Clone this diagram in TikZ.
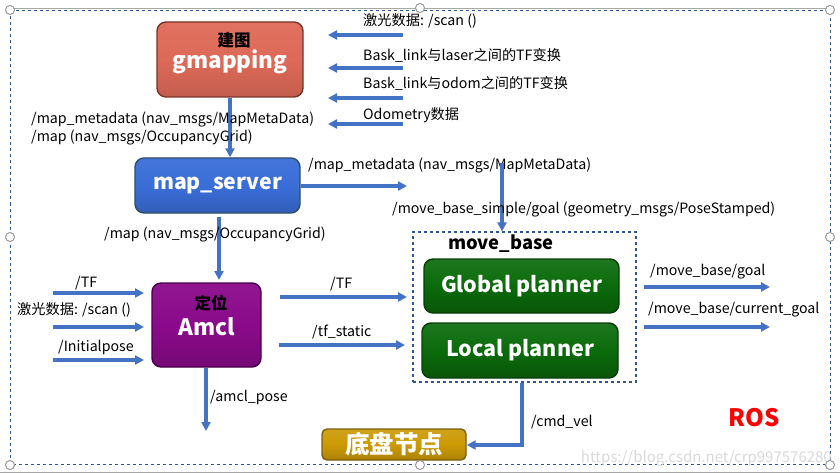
\documentclass[tikz,border=0pt]{standalone}
\usepackage{fontspec}
\setmainfont{Noto Sans CJK SC}
\usetikzlibrary{arrows.meta}
\definecolor{arrblue}{HTML}{4472C4}
\definecolor{dashblue}{HTML}{2F5597}
\definecolor{gmfill}{HTML}{DE6A58}
\definecolor{gmedge}{HTML}{7A3328}
\definecolor{msfill}{HTML}{3A6ED8}
\definecolor{msedge}{HTML}{2E4F66}
\definecolor{amfill}{HTML}{8B0A8B}
\definecolor{amedge}{HTML}{45004A}
\definecolor{gpfill}{HTML}{0B6B0B}
\definecolor{gpedge}{HTML}{053D05}
\definecolor{chfill}{HTML}{CC9A06}
\definecolor{chedge}{HTML}{7A5E10}
\tikzset{
  box/.style={rounded corners=9pt, line width=1.4pt, text=white, font=\bfseries, align=center, inner sep=0pt},
  flow/.style={draw=arrblue, line width=3.2pt, -{Triangle[length=9pt,width=9pt]}},
  lbl/.style={anchor=west, inner sep=0pt, font=\fontsize{14.2}{16}\selectfont},
  intext/.style={inner sep=0pt, font=\bfseries},
  handle/.style={circle, draw=gray!80, fill=white, line width=1pt, minimum size=9pt, inner sep=0pt}
}
\begin{document}
\begin{tikzpicture}[x=1pt,y=-1pt]
\useasboundingbox (0,0) rectangle (840,473);
% frame
\draw[gray!70, line width=1pt] (0,472) -- (840,472);
\draw[gray!70, line width=1pt] (10,9) -- (830,9);
\draw[dashblue, dashed, line width=1pt] (10,10.5) rectangle (830,464);
% nodes
\node[box, draw=gmedge, top color=gmfill!95!white, bottom color=gmfill!88!black, middle color=gmfill, minimum width=146pt, minimum height=75pt] (gm) at (230,59.5) {};
\node[intext, text=black, font=\bfseries\fontsize{16.5}{18}\selectfont] (gmt1) at (234,40) {建图};
\node[intext, text=white, font=\bfseries\fontsize{22.5}{24}\selectfont] (gmt2) at (230,62) {gmapping};
\node[box, draw=msedge, top color=msfill!95!white, bottom color=msfill!85!black, middle color=msfill, minimum width=165pt, minimum height=55pt, font=\bfseries\fontsize{21.3}{23}\selectfont] (ms) at (217.5,185.5) {map\_server};
\node[box, draw=amedge, top color=amfill!95!white, bottom color=amfill!85!black, middle color=amfill, minimum width=109pt, minimum height=84pt] (am) at (206.5,325) {};
\node[intext, text=black, font=\bfseries\fontsize{16.5}{18}\selectfont] (amt1) at (211,303) {定位};
\node[intext, text=white, font=\bfseries\fontsize{22.5}{24}\selectfont] (amt2) at (207,327) {Amcl};
\node[draw=dashblue, dashed, line width=1.2pt, minimum width=223pt, minimum height=150pt, inner sep=0pt] (mb) at (524.5,307) {};
\node[font=\bfseries\fontsize{18.4}{20}\selectfont, inner sep=0pt] (mbt) at (501,244) {move\_base};
\node[box, draw=gpedge, top color=gpfill!92!white, bottom color=gpfill!80!black, middle color=gpfill, minimum width=195pt, minimum height=54pt, font=\bfseries\fontsize{21.5}{23}\selectfont] (gp) at (521.5,286) {Global planner};
\node[box, draw=gpedge, top color=gpfill!92!white, bottom color=gpfill!80!black, middle color=gpfill, minimum width=196pt, minimum height=55pt, font=\bfseries\fontsize{21.5}{23}\selectfont] (lp) at (520,350.5) {Local planner};
\node[box, rounded corners=5pt, draw=chedge, top color=chfill!92!white, bottom color=chfill!85!black, middle color=chfill, minimum width=144pt, minimum height=31pt, font=\bfseries\fontsize{24.5}{26}\selectfont] (ch) at (394,444.5) {底盘节点};
\node[text=red, font=\bfseries\fontsize{24}{26}\selectfont, inner sep=0pt] (ros) at (754,418) {ROS};
\node[text=gray!30, font=\fontsize{15}{17}\selectfont, anchor=east, inner sep=0pt] (wm) at (832,458) {https://blog.csdn.net/crp997576280};
% handles
\foreach \n/\p in {h1/{(10,10)},h2/{(420,8)},h3/{(830,10)},h4/{(10,237)},h5/{(830,237)},h6/{(10,465)},h7/{(420,465)},h8/{(830,465)}}
  \node[handle] (\n) at \p {};
% gmapping inputs
\foreach \n/\y in {a/35,b/68,c/98,d/124}{
  \coordinate (gs\n) at (403,\y);
  \coordinate (ge\n) at (328,\y);
  \draw[flow] (gs\n) -- (ge\n);
}
\node[lbl] (l1) at (363,21) {激光数据: /scan ()};
\node[lbl] (l2) at (363,55) {Bask\_link与laser之间的TF变换};
\node[lbl] (l3) at (363,83) {Bask\_link与odom之间的TF变换};
\node[lbl] (l4) at (363,115) {Odometry数据};
% gmapping -> map_server
\draw[flow] (gm.south) -- (gm.south |- ms.north);
\node[lbl] (l5) at (31,119) {/map\_metadata (nav\_msgs/MapMetaData)};
\node[lbl] (l6) at (31,137) {/map (nav\_msgs/OccupancyGrid)};
% map_server -> right
\coordinate (mse) at (407,186);
\draw[flow] (ms.east |- mse) -- (mse);
\node[lbl] (l7) at (308,165) {/map\_metadata (nav\_msgs/MapMetaData)};
\coordinate (gls) at (502,163);
\draw[flow] (gls) -- (gls |- mb.north);
\node[lbl] (l8) at (392,209) {/move\_base\_simple/goal (geometry\_msgs/PoseStamped)};
% map_server -> amcl
\coordinate (msa) at (219,217);
\coordinate (ama) at (219,280);
\draw[flow] (msa) -- (ama);
\node[lbl] (l9) at (104,234) {/map (nav\_msgs/OccupancyGrid)};
% amcl inputs
\foreach \n/\y in {a/293,b/327,c/360}{
  \coordinate (as\n) at (53,\y);
  \coordinate (ae\n) at (144,\y);
  \draw[flow] (as\n) -- (ae\n);
}
\node[lbl] (l10) at (75,283) {/TF};
\node[lbl] (l11) at (17,310) {激光数据: /scan ()};
\node[lbl] (l12) at (58,347) {/Initialpose};
% amcl outputs
\coordinate (ots) at (280,297); \coordinate (ote) at (407,297);
\draw[flow] (ots) -- (ote);
\node[lbl] (l13) at (330,284) {/TF};
\coordinate (oss) at (279,345); \coordinate (ose) at (405,345);
\draw[flow] (oss) -- (ose);
\node[lbl] (l14) at (312,332) {/tf\_static};
\coordinate (apd) at (206,431);
\draw[flow] (am.south -| apd) -- (apd);
\node[lbl] (l15) at (210,397) {/amcl\_pose};
% move_base outputs
\coordinate (g1s) at (644,287); \coordinate (g1e) at (770,287);
\draw[flow] (g1s) -- (g1e);
\node[lbl] (l16) at (650,272) {/move\_base/goal};
\coordinate (g2s) at (644,327); \coordinate (g2e) at (770,327);
\draw[flow] (g2s) -- (g2e);
\node[lbl] (l17) at (648,310) {/move\_base/current\_goal};
% cmd_vel
\coordinate (cv) at (522,445);
\draw[flow] (mb.south -| cv) -- (cv) -- (ch.east |- cv);
\node[lbl] (l18) at (531,422) {/cmd\_vel};
\end{tikzpicture}
\end{document}
